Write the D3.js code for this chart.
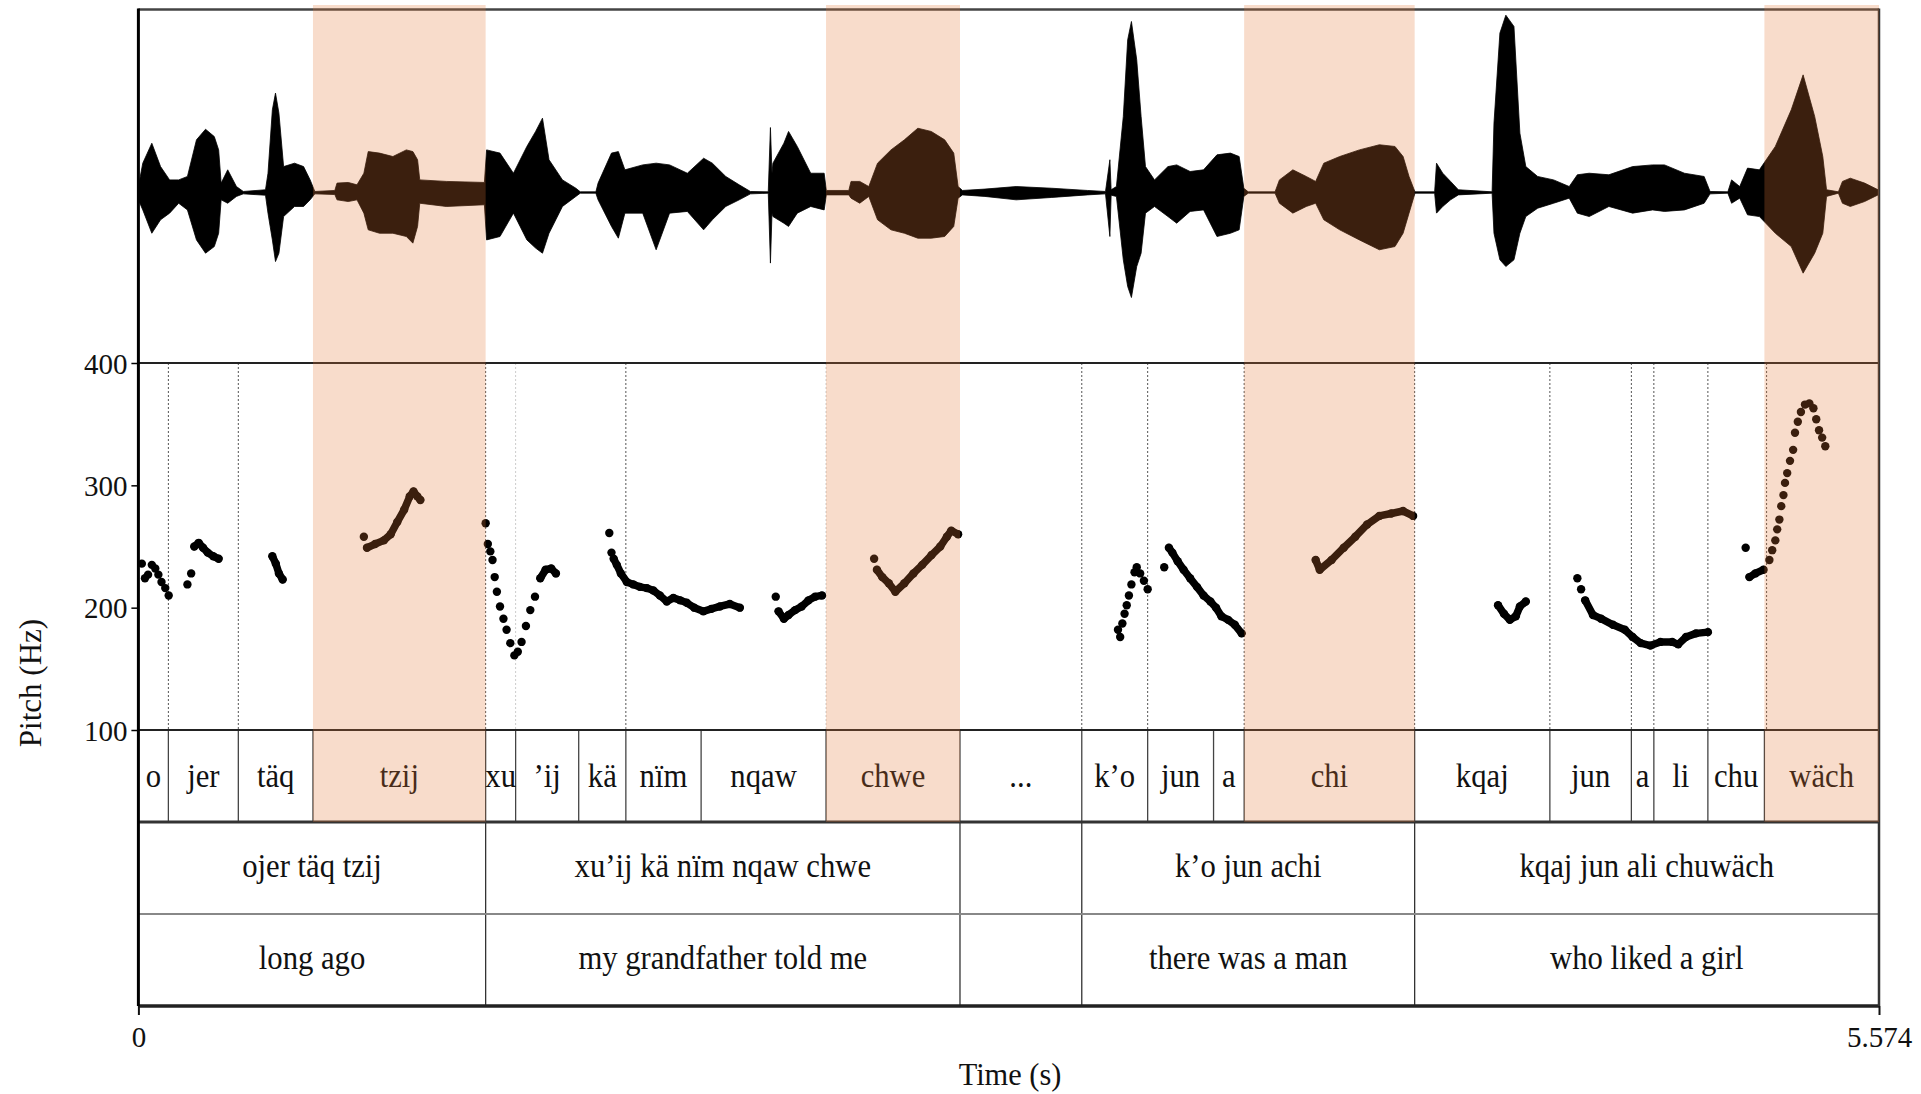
<!DOCTYPE html>
<html>
<head>
<meta charset="utf-8">
<script src="https://cdn.jsdelivr.net/npm/d3@7"></script>
<style>
  body { margin: 0; background: #fff; }
  text { font-family: "Liberation Serif", "Times New Roman", serif; fill: #111; }
</style>
</head>
<body>
<div class="chart"></div>
<script>
var totalTime = 5.574;

// waveform envelope (time in s, upper / lower amplitude, normalised)
var waveT = [0.000,0.014,0.043,0.071,0.100,0.129,0.157,0.186,0.215,0.243,0.257,0.265,0.286,0.314,0.336,0.407,0.415,0.429,0.439,0.450,0.465,0.500,0.529,0.550,0.565,0.629,0.636,0.672,0.700,0.722,0.736,0.772,0.815,0.858,0.879,0.894,0.901,0.986,1.108,1.115,1.158,1.201,1.244,1.272,1.294,1.315,1.358,1.401,1.415,1.465,1.472,1.515,1.537,1.558,1.615,1.658,1.701,1.758,1.810,1.838,1.881,1.924,1.960,2.017,2.024,2.029,2.032,2.067,2.082,2.110,2.153,2.196,2.203,2.275,2.282,2.310,2.339,2.367,2.410,2.453,2.496,2.539,2.582,2.611,2.625,2.639,2.711,2.811,2.925,3.039,3.097,3.111,3.115,3.132,3.154,3.168,3.180,3.197,3.211,3.225,3.254,3.297,3.325,3.368,3.411,3.454,3.497,3.525,3.540,3.554,3.640,3.654,3.697,3.740,3.770,3.796,3.847,3.910,3.974,4.024,4.050,4.069,4.088,4.151,4.157,4.177,4.202,4.227,4.335,4.341,4.360,4.379,4.405,4.424,4.443,4.481,4.532,4.582,4.608,4.646,4.709,4.785,4.849,4.887,4.951,5.014,5.033,5.090,5.102,5.128,5.153,5.191,5.242,5.293,5.331,5.368,5.394,5.406,5.444,5.457,5.482,5.528,5.571];
var waveTop = [0.035,0.172,0.289,0.152,0.074,0.074,0.094,0.309,0.371,0.328,0.250,0.055,0.133,0.035,0.006,0.016,0.113,0.485,0.583,0.465,0.152,0.172,0.152,0.074,0.006,0.012,0.055,0.059,0.045,0.113,0.240,0.231,0.211,0.250,0.240,0.192,0.074,0.065,0.059,0.250,0.231,0.113,0.270,0.358,0.436,0.192,0.074,0.025,0.004,0.004,0.055,0.231,0.240,0.133,0.162,0.172,0.162,0.113,0.201,0.172,0.094,0.045,0.006,0.004,0.381,0.113,0.172,0.289,0.358,0.270,0.113,0.113,0.012,0.012,0.065,0.065,0.035,0.172,0.250,0.309,0.377,0.358,0.309,0.231,0.035,0.012,0.020,0.035,0.025,0.012,0.006,0.192,0.016,0.035,0.446,0.895,1.003,0.778,0.446,0.152,0.074,0.152,0.162,0.123,0.133,0.221,0.231,0.211,0.025,0.004,0.004,0.074,0.133,0.094,0.065,0.172,0.211,0.250,0.280,0.270,0.211,0.094,0.004,0.004,0.172,0.113,0.065,0.016,0.004,0.407,0.935,1.040,0.974,0.348,0.152,0.094,0.074,0.035,0.104,0.113,0.104,0.152,0.162,0.162,0.113,0.094,0.006,0.004,0.074,0.035,0.143,0.133,0.270,0.485,0.690,0.446,0.211,0.016,0.004,0.065,0.084,0.055,0.016];
var waveBot = [-0.043,-0.102,-0.239,-0.160,-0.121,-0.063,-0.102,-0.278,-0.356,-0.317,-0.239,-0.043,-0.063,-0.023,-0.008,-0.016,-0.121,-0.278,-0.405,-0.356,-0.141,-0.082,-0.082,-0.043,-0.008,-0.012,-0.043,-0.053,-0.043,-0.121,-0.219,-0.239,-0.239,-0.258,-0.297,-0.199,-0.063,-0.082,-0.072,-0.278,-0.258,-0.121,-0.278,-0.326,-0.356,-0.239,-0.082,-0.023,-0.004,-0.004,-0.043,-0.199,-0.268,-0.121,-0.121,-0.336,-0.121,-0.111,-0.219,-0.160,-0.082,-0.043,-0.008,-0.004,-0.414,-0.121,-0.141,-0.180,-0.199,-0.121,-0.082,-0.102,-0.014,-0.014,-0.033,-0.063,-0.023,-0.160,-0.219,-0.239,-0.268,-0.268,-0.258,-0.199,-0.033,-0.014,-0.023,-0.043,-0.029,-0.014,-0.008,-0.258,-0.016,-0.023,-0.395,-0.551,-0.616,-0.434,-0.356,-0.121,-0.082,-0.141,-0.180,-0.111,-0.102,-0.258,-0.239,-0.219,-0.023,-0.004,-0.004,-0.063,-0.121,-0.082,-0.063,-0.160,-0.219,-0.278,-0.336,-0.317,-0.239,-0.121,-0.004,-0.004,-0.121,-0.082,-0.043,-0.014,-0.004,-0.239,-0.395,-0.434,-0.395,-0.239,-0.141,-0.092,-0.063,-0.033,-0.121,-0.141,-0.082,-0.121,-0.102,-0.111,-0.102,-0.063,-0.008,-0.004,-0.063,-0.033,-0.131,-0.141,-0.239,-0.317,-0.473,-0.356,-0.239,-0.023,-0.004,-0.063,-0.082,-0.053,-0.014];

// pitch tracks: [time s, Hz]
var pitchTracks = [
  [[0.011,236],[0.021,224],[0.031,227],[0.043,235],[0.054,232],[0.064,227],[0.074,221],[0.086,216],[0.097,210]],
  [[0.157,219],[0.169,228]],
  [[0.179,250],[0.193,253],[0.207,249],[0.222,245],[0.240,242],[0.257,240]],
  [[0.429,242],[0.440,236],[0.450,228],[0.462,223]],
  [[0.722,258]],
  [[0.732,249],[0.758,252],[0.786,255],[0.808,260],[0.829,270],[0.851,280],[0.869,291],[0.881,295],[0.893,291],[0.903,288]],
  [[1.112,269],[1.119,252],[1.127,246],[1.134,239],[1.141,225],[1.148,213],[1.158,201],[1.169,191],[1.179,182],[1.191,171],[1.204,161],[1.215,164],[1.227,172],[1.241,185],[1.255,198],[1.270,209]],
  [[1.287,224],[1.304,231],[1.322,232],[1.337,228]],
  [[1.508,261],[1.515,245]],
  [[1.522,240],[1.532,235],[1.545,228],[1.564,221],[1.585,219],[1.606,217],[1.628,216],[1.649,214],[1.670,210],[1.692,205],[1.713,208],[1.735,206],[1.756,204],[1.780,200],[1.809,197],[1.835,199],[1.862,201],[1.894,203],[1.926,200]],
  [[2.041,209]],
  [[2.050,197],[2.067,191],[2.082,194],[2.103,198],[2.124,201],[2.146,206],[2.167,209],[2.189,210]],
  [[2.356,240]],
  [[2.365,231],[2.382,225],[2.403,220],[2.424,213],[2.453,220],[2.482,228],[2.510,235],[2.540,243],[2.568,250],[2.589,258],[2.603,263],[2.625,260]],
  [[3.137,182],[3.144,176],[3.151,187],[3.158,195],[3.165,202],[3.172,210],[3.180,219],[3.190,229],[3.197,233],[3.208,228],[3.220,222],[3.232,215]],
  [[3.285,233]],
  [[3.300,249],[3.311,245],[3.328,238],[3.347,231],[3.368,224],[3.390,217],[3.411,210],[3.433,205],[3.451,200],[3.468,193],[3.490,190],[3.511,186],[3.533,179]],
  [[3.770,239],[3.783,231],[3.821,239],[3.860,249],[3.897,258],[3.935,268],[3.974,275],[4.012,277],[4.050,279],[4.082,275]],
  [[4.354,202],[4.373,195],[4.392,190],[4.411,193],[4.424,201],[4.443,205]],
  [[4.608,224],[4.620,215]],
  [[4.633,206],[4.658,194],[4.684,191],[4.722,186],[4.760,182],[4.785,176],[4.811,171],[4.842,169],[4.874,172],[4.912,172],[4.931,170],[4.956,176],[4.988,179],[5.026,180]],
  [[5.147,249]],
  [[5.159,225],[5.178,228],[5.204,231]],
  [[5.223,239],[5.232,247],[5.242,255],[5.248,264],[5.255,272],[5.261,283],[5.268,292],[5.273,302],[5.280,310],[5.289,320],[5.299,329],[5.305,343],[5.314,352],[5.324,360],[5.337,366],[5.351,367],[5.364,363],[5.373,354],[5.382,345],[5.392,339],[5.402,332]]
];

// word tier
var words = ["o","jer","täq","tzij","xu","’ij","kä","nïm","nqaw","chwe","...","k’o","jun","a","chi","kqaj","jun","a","li","chu","wäch"];
var wordBounds = [0,0.096,0.320,0.559,1.112,1.208,1.410,1.561,1.802,2.202,2.631,3.021,3.232,3.443,3.541,4.087,4.520,4.781,4.853,5.026,5.207,5.574];
var highlighted = ["tzij","chwe","chi","wäch"];

// phrase tiers
var phraseBounds = [0,1.112,2.631,3.021,4.087,5.574];
var phrases = ["ojer täq tzij","xu’ij kä nïm nqaw chwe","","k’o jun achi","kqaj jun ali chuwäch"];
var glosses = ["long ago","my grandfather told me","","there was a man","who liked a girl"];

// dotted boundary marks inside pitch panel
var pitchMarks = [0.096,0.320,1.112,1.561,3.021,3.232,3.541,4.087,4.520,4.781,4.853,5.026,5.214];
var faintMarks = [1.208,2.202];

var pitchTicks = [100,200,300,400];
var timeTicks = [0,5.574];
var timeLabels = ["0","5.574"];

var svgWidth = 1921;
var svgHeight = 1094;

var svg = d3.select(".chart")
  .append("svg")
  .attr("width", svgWidth)
  .attr("height", svgHeight);

var frameTop = 9.5, pitchTop = 363, pitchBottom = 730, wordBottom = 822, phraseMid = 914, frameBottom = 1006;

var x = d3.scaleLinear().domain([0, totalTime]).range([138.4, 1879]);
var yWave = d3.scaleLinear().domain([-1, 1]).range([363, 22]);
var yPitch = d3.scaleLinear().domain([100, 400]).range([pitchBottom, pitchTop]);

// waveform
var waveData = waveT.map((t, i) => ({t: t, hi: waveTop[i], lo: waveBot[i]}));
svg.append("path")
  .datum(waveData)
  .attr("d", d3.area()
    .x(d => x(d.t))
    .y0(d => yWave(d.lo))
    .y1(d => yWave(d.hi)))
  .attr("fill", "#000")
  .attr("stroke", "#000")
  .attr("stroke-width", 0.8);

// dotted boundaries in pitch panel
svg.selectAll(".pmark")
  .data(pitchMarks)
  .enter()
  .append("line")
  .attr("x1", d => x(d)).attr("x2", d => x(d))
  .attr("y1", pitchTop).attr("y2", pitchBottom)
  .attr("stroke", "#555")
  .attr("stroke-width", 1)
  .attr("stroke-dasharray", "2,2");

svg.selectAll(".fmark")
  .data(faintMarks)
  .enter()
  .append("line")
  .attr("x1", d => x(d)).attr("x2", d => x(d))
  .attr("y1", pitchTop).attr("y2", pitchBottom)
  .attr("stroke", "#ccc")
  .attr("stroke-width", 1)
  .attr("stroke-dasharray", "2,2");

// pitch
var joined = [false,false,true,true,false,true,false,true,false,true,false,true,false,true,false,false,true,true,true,false,true,false,true,false];
var pitchLine = d3.line().x(d => x(d[0])).y(d => yPitch(d[1]));
pitchTracks.forEach(function(track, i) {
  if (joined[i]) {
    svg.append("path")
      .datum(track)
      .attr("d", pitchLine)
      .attr("fill", "none")
      .attr("stroke", "#000")
      .attr("stroke-width", 7.5)
      .attr("stroke-linecap", "round")
      .attr("stroke-linejoin", "round");
  }
  svg.selectAll(null)
    .data(track)
    .enter()
    .append("circle")
    .attr("cx", d => x(d[0]))
    .attr("cy", d => yPitch(d[1]))
    .attr("r", 4.2)
    .attr("fill", "#000");
});

// tier separators
svg.selectAll(".wsep")
  .data(wordBounds.slice(1, -1))
  .enter()
  .append("line")
  .attr("x1", d => x(d)).attr("x2", d => x(d))
  .attr("y1", pitchBottom).attr("y2", wordBottom)
  .attr("stroke", "#444")
  .attr("stroke-width", 1.3);

svg.selectAll(".psep")
  .data(phraseBounds.slice(1, -1))
  .enter()
  .append("line")
  .attr("x1", d => x(d)).attr("x2", d => x(d))
  .attr("y1", wordBottom).attr("y2", frameBottom)
  .attr("stroke", "#333")
  .attr("stroke-width", 1.3);

// horizontal rules
var rules = [
  {y: frameTop, c: "#444", w: 2.5},
  {y: pitchTop, c: "#222", w: 2},
  {y: pitchBottom, c: "#222", w: 2},
  {y: wordBottom, c: "#333", w: 3},
  {y: phraseMid, c: "#888", w: 2},
  {y: frameBottom, c: "#222", w: 3.5}
];
svg.selectAll(".rule")
  .data(rules)
  .enter()
  .append("line")
  .attr("x1", x(0)).attr("x2", x(totalTime))
  .attr("y1", d => d.y).attr("y2", d => d.y)
  .attr("stroke", d => d.c)
  .attr("stroke-width", d => d.w);

svg.append("line")
  .attr("x1", x(0)).attr("x2", x(0))
  .attr("y1", frameTop - 1).attr("y2", frameBottom)
  .attr("stroke", "#000").attr("stroke-width", 3);
svg.append("line")
  .attr("x1", x(totalTime)).attr("x2", x(totalTime))
  .attr("y1", frameTop - 1).attr("y2", frameBottom)
  .attr("stroke", "#333").attr("stroke-width", 2.5);

// axes
var leftAxis = d3.axisLeft(yPitch)
  .tickValues(pitchTicks)
  .tickSize(7)
  .tickPadding(4)
  .tickFormat(d3.format("d"));
var gLeft = svg.append("g")
  .attr("transform", `translate(${x(0)},0)`)
  .call(leftAxis);
gLeft.select(".domain").remove();
gLeft.selectAll(".tick line").attr("stroke", "#000").attr("stroke-width", 1.5);
gLeft.selectAll(".tick text")
  .attr("font-size", "29px")
  .attr("font-family", "Liberation Serif, serif")
  .attr("fill", "#111")
  .attr("dy", "0.35em");

var bottomAxis = d3.axisBottom(x)
  .tickValues(timeTicks)
  .tickSize(9)
  .tickFormat((d, i) => timeLabels[i]);
var gBottom = svg.append("g")
  .attr("transform", `translate(0,${frameBottom})`)
  .call(bottomAxis);
gBottom.select(".domain").remove();
gBottom.selectAll(".tick line").attr("stroke", "#111").attr("stroke-width", 2);
gBottom.selectAll(".tick text")
  .attr("font-size", "29px")
  .attr("font-family", "Liberation Serif, serif")
  .attr("fill", "#111")
  .attr("y", 41)
  .attr("dy", 0);

// tier labels (slightly condensed, like the original)
function tierText(sel, y, accessor) {
  sel.enter()
    .append("text")
    .attr("transform", d => `translate(${(x(d.a) + x(d.b)) / 2},${y}) scale(0.93,1)`)
    .attr("text-anchor", "middle")
    .attr("font-size", "33px")
    .text(accessor);
}

var wordData = words.map((w, i) => ({w: w, a: wordBounds[i], b: wordBounds[i + 1]}));
tierText(svg.selectAll(".word").data(wordData), 787, d => d.w);

var phraseData = phrases.map((p, i) => ({p: p, g: glosses[i], a: phraseBounds[i], b: phraseBounds[i + 1]}));
tierText(svg.selectAll(".phrase").data(phraseData), 877, d => d.p);
tierText(svg.selectAll(".gloss").data(phraseData), 969, d => d.g);

// axis titles
svg.append("text")
  .attr("transform", "translate(41,683) rotate(-90)")
  .attr("text-anchor", "middle")
  .attr("font-size", "31px")
  .text("Pitch (Hz)");

svg.append("text")
  .attr("transform", "translate(1010,1085) scale(0.95,1)")
  .attr("text-anchor", "middle")
  .attr("font-size", "32px")
  .text("Time (s)");

// highlighted syllables (tinted overlay)
var hiData = wordData.filter(d => highlighted.indexOf(d.w) >= 0);
svg.selectAll(".hi")
  .data(hiData)
  .enter()
  .append("rect")
  .attr("x", d => x(d.a))
  .attr("width", d => x(d.b) - x(d.a))
  .attr("y", 5)
  .attr("height", wordBottom - 5)
  .attr("fill", "rgb(228,120,54)")
  .attr("opacity", 0.26);
</script>
</body>
</html>
